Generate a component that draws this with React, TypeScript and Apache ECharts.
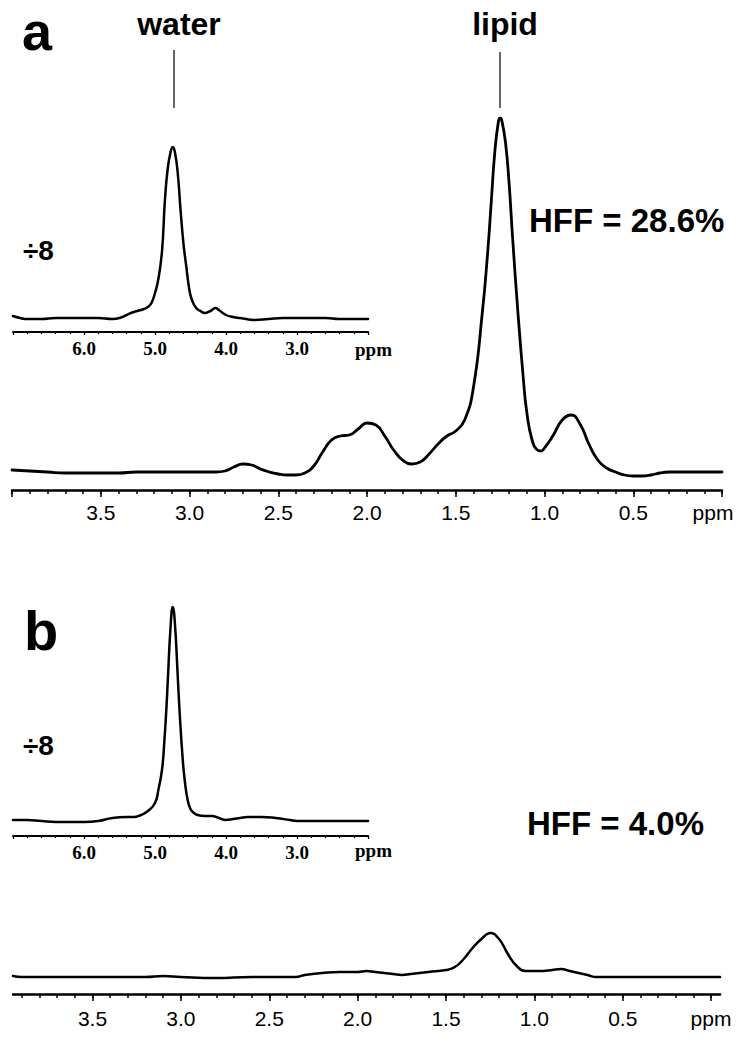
import React, { useEffect, useRef } from "react";
import * as echarts from "echarts";

// ---------- Data (ppm, amplitude) ----------
// Panel a – main spectrum (lipid region)
const aMainPpm = [4.0, 3.9, 3.8, 3.7, 3.6, 3.5, 3.4, 3.3, 3.2, 3.1, 3.0, 2.9, 2.85, 2.8, 2.75, 2.7, 2.65, 2.6, 2.55, 2.5, 2.45, 2.4, 2.35, 2.3, 2.25, 2.2, 2.15, 2.1, 2.05, 2.0, 1.95, 1.9, 1.85, 1.8, 1.75, 1.7, 1.65, 1.6, 1.55, 1.5, 1.45, 1.4, 1.35, 1.32, 1.3, 1.28, 1.26, 1.25, 1.24, 1.22, 1.2, 1.18, 1.15, 1.12, 1.1, 1.07, 1.04, 1.02, 1.0, 0.95, 0.9, 0.85, 0.8, 0.75, 0.7, 0.65, 0.6, 0.55, 0.5, 0.45, 0.4, 0.35, 0.3, 0.2, 0.1, 0.0];
const aMainVal = [2, 1, 0, -1, -1, -1, -1, 0, 0, 0, 0, 0, 0, 1, 5, 8, 7, 3, 0, -2, -3, -3, -1, 6, 20, 32, 36, 37, 43, 49, 47, 36, 22, 12, 8, 10, 18, 28, 36, 41, 52, 85, 160, 220, 270, 320, 350, 354, 351, 330, 290, 235, 160, 95, 60, 32, 22, 21, 24, 37, 52, 57, 48, 28, 12, 4, 0, -3, -4, -4, -3, -1, 0, 0, 0, 0];

// Panel a – inset (water, ÷8)
const aInsetPpm = [7.0, 6.9, 6.8, 6.6, 6.4, 6.2, 6.0, 5.8, 5.6, 5.5, 5.4, 5.3, 5.2, 5.1, 5.05, 5.0, 4.95, 4.9, 4.86, 4.82, 4.78, 4.75, 4.72, 4.68, 4.64, 4.6, 4.56, 4.52, 4.48, 4.42, 4.36, 4.3, 4.22, 4.15, 4.1, 4.0, 3.9, 3.8, 3.6, 3.4, 3.2, 3.0, 2.8, 2.6, 2.4, 2.2, 2.0];
const aInsetVal = [2, 0, -1, -1, 0, 0, 0, 0, -1, 0, 3, 6, 8, 11, 15, 25, 40, 68, 118, 150, 166, 171, 166, 145, 108, 75, 52, 30, 18, 10, 7, 5, 7, 10, 8, 3, 1, 0, -2, -1, 0, 0, 0, 0, -1, -1, -1];

// Panel b – inset (water, ÷8)
const bInsetPpm = [7.0, 6.8, 6.6, 6.4, 6.2, 6.0, 5.8, 5.6, 5.4, 5.3, 5.2, 5.1, 5.0, 4.95, 4.9, 4.87, 4.84, 4.82, 4.78, 4.75, 4.72, 4.68, 4.65, 4.61, 4.58, 4.54, 4.5, 4.45, 4.4, 4.3, 4.2, 4.1, 4.0, 3.9, 3.8, 3.7, 3.5, 3.3, 3.1, 3.0, 2.8, 2.6, 2.4, 2.2, 2.0];
const bInsetVal = [1, 1, 0, -1, -1, -1, 0, 3, 4, 4, 6, 10, 18, 32, 52, 78, 112, 140, 195, 214, 198, 145, 105, 62, 40, 21, 12, 8, 6, 5, 5, 3, 1, 2, 3, 4, 4, 3, 1, 0, 0, 0, 0, 0, 0];

// Panel b – main spectrum (lipid region)
const bMainPpm = [3.95, 3.9, 3.8, 3.6, 3.4, 3.2, 3.1, 3.0, 2.8, 2.6, 2.4, 2.35, 2.3, 2.2, 2.1, 2.0, 1.95, 1.9, 1.8, 1.75, 1.7, 1.6, 1.5, 1.45, 1.4, 1.35, 1.3, 1.25, 1.2, 1.15, 1.1, 1.05, 1.0, 0.95, 0.9, 0.85, 0.8, 0.75, 0.7, 0.65, 0.6, 0.5, 0.3, 0.1, -0.05];
const bMainVal = [1, 0, 0, 0, 0, 0, 1, 0, -1, 0, 0, 0, 2, 4, 5, 5, 6, 5, 3, 2, 3, 5, 7, 10, 18, 29, 38, 44, 38, 23, 11, 6, 6, 6, 7, 8, 6, 4, 2, 0, 0, 0, 0, 0, 0];

// Tick labels
const mainTickLabels = [3.5, 3.0, 2.5, 2.0, 1.5, 1.0, 0.5];
const insetTickLabels = [6.0, 5.0, 4.0, 3.0];

const SANS = "Liberation Sans, Arial, sans-serif";
const SERIF = "Liberation Serif, Times New Roman, serif";

function pairs(x: number[], y: number[]) {
  return x.map((v, i) => [v, y[i]]);
}

function stepValues(from: number, to: number, stepTenths: number) {
  const out: number[] = [];
  const a = Math.round(from * 10);
  const b = Math.round(to * 10);
  for (let k = a; k <= b; k += stepTenths) out.push(k / 10);
  return out;
}

function axisPair(
  gridIndex: number,
  min: number,
  max: number,
  majors: number[],
  minors: number[],
  labels: number[],
  opts: { lineW: number; majorLen: number; minorLen: number; tickW: number; margin: number; font: string; size: number; weight: string }
) {
  return [
    {
      type: "value",
      gridIndex,
      min,
      max,
      inverse: true,
      position: "bottom",
      axisLine: { show: true, onZero: false, lineStyle: { color: "#000", width: opts.lineW } },
      axisTick: { show: true, customValues: majors, length: opts.majorLen, lineStyle: { color: "#000", width: opts.tickW } },
      axisLabel: {
        show: true,
        customValues: labels,
        margin: opts.margin,
        color: "#000",
        fontFamily: opts.font,
        fontSize: opts.size,
        fontWeight: opts.weight,
        formatter: (v: number) => v.toFixed(1),
      },
      splitLine: { show: false },
    },
    {
      type: "value",
      gridIndex,
      min,
      max,
      inverse: true,
      position: "bottom",
      axisLine: { show: false, onZero: false },
      axisTick: { show: true, customValues: minors, length: opts.minorLen, lineStyle: { color: "#000", width: opts.tickW } },
      axisLabel: { show: false },
      splitLine: { show: false },
    },
  ];
}

export default function App() {
  const ref = useRef<HTMLDivElement>(null);

  useEffect(() => {
    document.body.style.margin = "0";
    if (!ref.current) return;
    const chart = echarts.init(ref.current, null, { renderer: "svg" });

    const mainOpts = { lineW: 2.5, majorLen: 7, minorLen: 4, tickW: 1.5, margin: 12, font: SANS, size: 21, weight: "normal" };
    const insetOpts = { lineW: 2, majorLen: 3, minorLen: 2, tickW: 1.2, margin: 7, font: SERIF, size: 19, weight: "bold" };

    const xAxis = [
      ...axisPair(0, 0, 4, stepValues(0, 4, 5), stepValues(0, 4, 1), mainTickLabels, mainOpts),
      ...axisPair(1, 2, 7, stepValues(2, 7, 10), stepValues(2, 7, 2), insetTickLabels, insetOpts),
      ...axisPair(2, 2, 7, stepValues(2, 7, 10), stepValues(2, 7, 2), insetTickLabels, insetOpts),
      ...axisPair(3, -0.05, 3.95, stepValues(0, 3.5, 5), stepValues(0, 3.9, 1), mainTickLabels, { ...mainOpts, margin: 14 }),
    ];

    const yAxis = [
      { type: "value", gridIndex: 0, min: -18, max: 354, show: false },
      { type: "value", gridIndex: 1, min: -14, max: 171, show: false },
      { type: "value", gridIndex: 2, min: -15, max: 214, show: false },
      { type: "value", gridIndex: 3, min: -17, max: 60, show: false },
    ];

    const grid = [
      { left: 12, right: 22, top: 118, bottom: 557 },
      { left: 13, right: 376, top: 147, bottom: 715 },
      { left: 13, right: 376, top: 607, bottom: 211 },
      { left: 13, right: 24, top: 917, bottom: 53 },
    ];

    const lineSeries = (xi: number, yi: number, data: number[][], w: number) => ({
      type: "line",
      xAxisIndex: xi,
      yAxisIndex: yi,
      data,
      showSymbol: false,
      symbol: "none",
      smooth: 0.5,
      lineStyle: { color: "#000", width: w, join: "round", cap: "round" },
      silent: true,
    });

    const txt = (text: string, x: number, y: number, size: number, opts: any = {}) => ({
      type: "text",
      x,
      y,
      style: {
        text,
        fill: "#000",
        font: `${opts.weight || "bold"} ${size}px ${opts.family || SANS}`,
        align: opts.align || "left",
        verticalAlign: "middle",
      },
      silent: true,
    });

    chart.setOption({
      animation: false,
      backgroundColor: "#fff",
      grid,
      xAxis,
      yAxis,
      series: [
        lineSeries(0, 0, pairs(aMainPpm, aMainVal), 2.8),
        lineSeries(2, 1, pairs(aInsetPpm, aInsetVal), 2.5),
        lineSeries(4, 2, pairs(bInsetPpm, bInsetVal), 2.5),
        lineSeries(6, 3, pairs(bMainPpm, bMainVal), 2.5),
      ],
      graphic: [
        txt("a", 22, 31, 54),
        txt("water", 179, 24, 32, { align: "center" }),
        txt("lipid", 505, 24, 32, { align: "center" }),
        { type: "line", shape: { x1: 174, y1: 50, x2: 174, y2: 108 }, style: { stroke: "#000", lineWidth: 1.2 }, silent: true },
        { type: "line", shape: { x1: 500, y1: 52, x2: 500, y2: 108 }, style: { stroke: "#000", lineWidth: 1.2 }, silent: true },
        txt("÷8", 23, 250, 28),
        txt("HFF = 28.6%", 529, 220, 33),
        txt("ppm", 713, 512, 21, { align: "center", weight: "normal" }),
        txt("ppm", 355, 349, 19, { family: SERIF }),
        txt("b", 24, 630, 56),
        txt("÷8", 23, 745, 28),
        txt("HFF = 4.0%", 527, 823, 33),
        txt("ppm", 355, 850, 19, { family: SERIF }),
        txt("ppm", 711, 1018, 21, { align: "center", weight: "normal" }),
      ],
    });

    return () => chart.dispose();
  }, []);

  return <div ref={ref} style={{ width: 744, height: 1047, position: "absolute", left: 0, top: 0 }} />;
}
